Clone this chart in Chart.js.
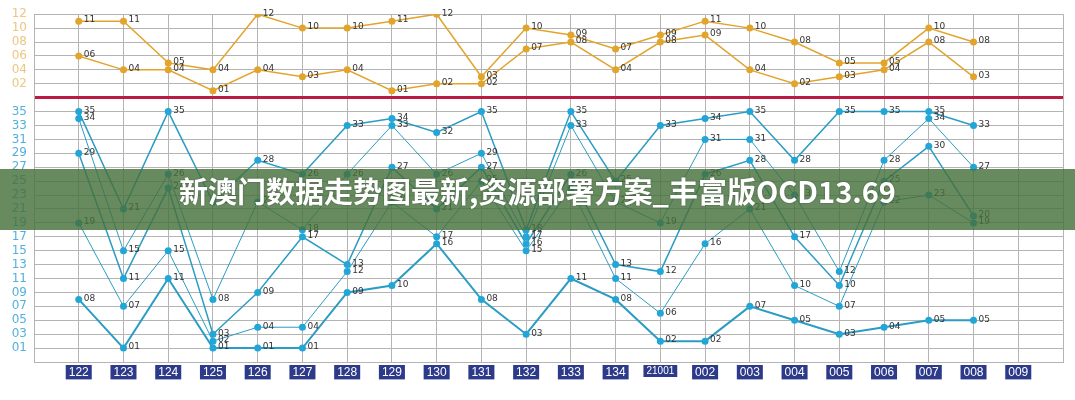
<!DOCTYPE html>
<html>
<head>
    <meta charset="UTF-8">
    <title>新澳门数据走势图</title>
    <script src="https://cdn.jsdelivr.net/npm/chart.js"></script>
    <style>
        body { margin: 0; background: #fff; }
        .wrap { position: relative; width: 1075px; height: 400px; }
        .banner {
            position: absolute; left: 0; top: 169px; width: 1075px; height: 61px;
            background: rgba(70, 112, 60, 0.82);
            color: #fff; text-align: center; line-height: 61px;
            font: bold 29px "Noto Sans CJK SC", sans-serif;
            text-shadow: 0 0 2px rgba(0, 0, 0, 0.35);
            pointer-events: none;
        }
    </style>
</head>
<body>
<div class="wrap">
    <canvas id="trend" width="1075" height="400"></canvas>
    <div class="banner">新澳门数据走势图最新,资源部署方案_丰富版OCD13.69</div>
</div>
<script>
    // draw periods
    const periods = ['122', '123', '124', '125', '126', '127', '128', '129', '130', '131', '132',
        '133', '134', '21001', '002', '003', '004', '005', '006', '007', '008', '009'];

    // back numbers (01-12), top panel
    const backHigh = [11, 11, 5, 4, 12, 10, 10, 11, 12, 3, 10, 9, 7, 9, 11, 10, 8, 5, 5, 10, 8];
    const backLow  = [6, 4, 4, 1, 4, 3, 4, 1, 2, 2, 7, 8, 4, 8, 9, 4, 2, 3, 4, 8, 3];

    // front numbers (01-35), sorted high to low per draw
    const front1 = [35, 21, 35, 22, 28, 26, 33, 34, 32, 35, 18, 35, 25, 33, 34, 35, 28, 35, 35, 35, 33];
    const front2 = [34, 15, 26, 8, 22, 18, 26, 33, 26, 29, 17, 33, 22, 19, 31, 31, 23, 12, 28, 34, 27];
    const front3 = [29, 11, 24, 3, 9, 17, 13, 27, 21, 27, 16, 26, 13, 12, 26, 28, 17, 10, 25, 30, 20];
    const front4 = [19, 7, 15, 2, 4, 4, 12, 22, 17, 25, 15, 24, 11, 6, 16, 21, 10, 7, 22, 23, 19];
    const front5 = [8, 1, 11, 1, 1, 1, 9, 10, 16, 8, 3, 11, 8, 2, 2, 7, 5, 3, 4, 5, 5];

    const gold = '#e3a42c';
    const blue = '#22a6d8';
    const blueLine = '#2b9cc4';
    const gridGrey = '#b4b4b4';
    const red = '#bb1a43';

    const toPoints = arr => arr.map((v, i) => ({ x: i, y: v }));
    const tickVal = c => (c && c.tick ? c.tick.value : null);
    const isLong = c => periods[tickVal(c)] === '21001';

    function backSet(arr, width) {
        return {
            data: toPoints(arr), yAxisID: 'yTop',
            borderColor: gold, borderWidth: width,
            pointBackgroundColor: gold, pointBorderColor: gold,
            pointRadius: 3.5, pointBorderWidth: 0
        };
    }
    function frontSet(arr, width) {
        return {
            data: toPoints(arr), yAxisID: 'yBot',
            borderColor: blueLine, borderWidth: width,
            pointBackgroundColor: blue, pointBorderColor: blue,
            pointRadius: 3.5, pointBorderWidth: 0
        };
    }

    const pointLabels = {
        id: 'pointLabels',
        afterDatasetsDraw(chart) {
            const ctx = chart.ctx;
            ctx.save();
            ctx.font = '9px "DejaVu Sans"';
            ctx.fillStyle = '#333';
            ctx.textBaseline = 'middle';
            chart.data.datasets.forEach((ds, i) => {
                chart.getDatasetMeta(i).data.forEach((pt, j) => {
                    const v = ds.data[j].y;
                    ctx.fillText(String(v).padStart(2, '0'), pt.x + 5, pt.y - 1);
                });
            });
            ctx.restore();
        }
    };

    new Chart(document.getElementById('trend'), {
        type: 'line',
        data: {
            datasets: [
                backSet(backHigh, 1.5),
                backSet(backLow, 1.5),
                frontSet(front1, 1.5),
                frontSet(front2, 1),
                frontSet(front3, 1.5),
                frontSet(front4, 1),
                frontSet(front5, 2)
            ]
        },
        options: {
            responsive: false,
            animation: false,
            layout: { padding: { top: 10, right: 12, left: 0, bottom: 0 } },
            plugins: { legend: { display: false }, tooltip: { enabled: false } },
            scales: {
                x: {
                    type: 'linear', min: -1, max: 22,
                    afterFit: s => { s.height = 38; },
                    grid: { color: gridGrey, drawTicks: false },
                    border: { color: gridGrey },
                    ticks: {
                        stepSize: 1, autoSkip: false, maxRotation: 0, padding: 3,
                        color: '#fff',
                        font: c => ({ family: '"Liberation Sans"', size: isLong(c) ? 10 : 12 }),
                        showLabelBackdrop: true,
                        backdropPadding: { x: 3, y: 0 },
                        backdropColor: c => (periods[tickVal(c)] ? '#2d3a8a' : 'rgba(0,0,0,0)'),
                        callback: v => periods[v] || ''
                    }
                },
                yTop: {
                    type: 'linear', position: 'left', stack: 'panel', stackWeight: 12, weight: 2,
                    min: 0, max: 12,
                    afterFit: s => { s.width = 34; },
                    grid: {
                        drawTicks: false,
                        color: c => (tickVal(c) === 0 ? red : gridGrey),
                        lineWidth: c => (tickVal(c) === 0 ? 3 : 1)
                    },
                    border: { color: gridGrey },
                    ticks: {
                        stepSize: 2, autoSkip: false, padding: 7, color: '#ecc780',
                        font: { family: '"DejaVu Sans"', size: 12 },
                        callback: v => (v > 0 ? String(v).padStart(2, '0') : '')
                    }
                },
                yBot: {
                    type: 'linear', position: 'left', stack: 'panel', stackWeight: 38, weight: 1,
                    min: -1, max: 37,
                    afterFit: s => { s.width = 34; },
                    grid: {
                        drawTicks: false,
                        color: c => (tickVal(c) === 37 ? red : gridGrey),
                        lineWidth: c => (tickVal(c) === 37 ? 3 : 1)
                    },
                    border: { color: gridGrey },
                    ticks: {
                        stepSize: 2, autoSkip: false, padding: 7, color: '#52b1dc',
                        font: { family: '"DejaVu Sans"', size: 12 },
                        callback: v => (v > 0 && v < 37 ? String(v).padStart(2, '0') : '')
                    }
                }
            }
        },
        plugins: [pointLabels]
    });
</script>
</body>
</html>
